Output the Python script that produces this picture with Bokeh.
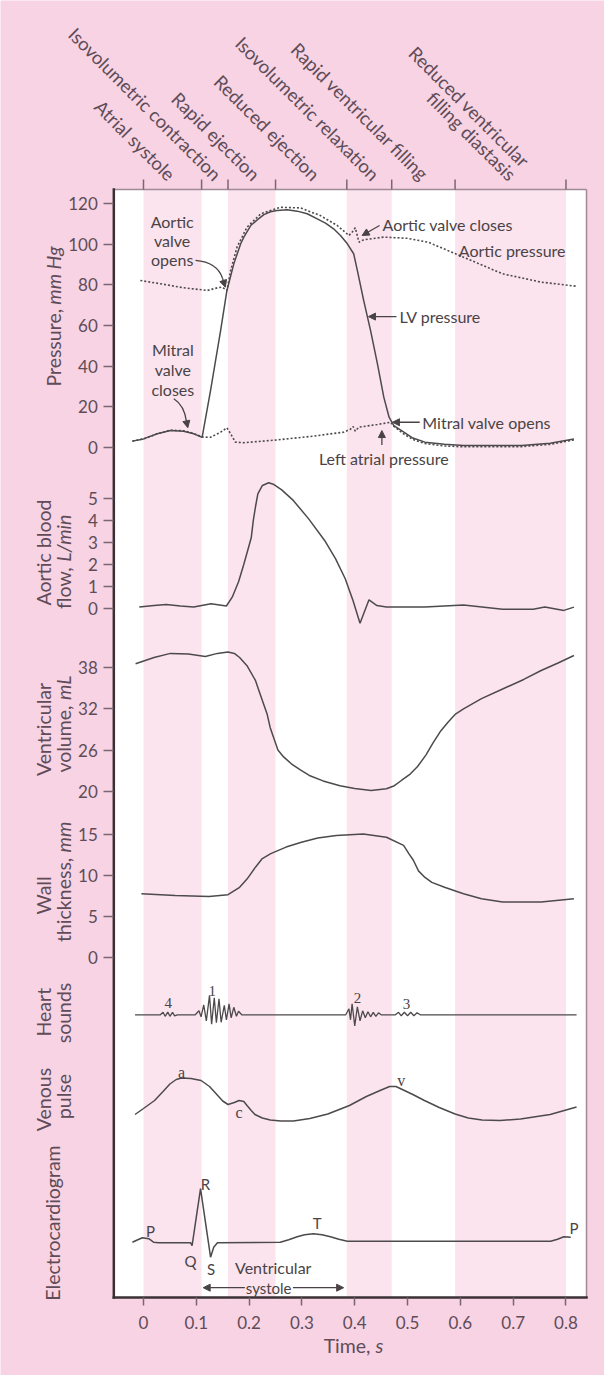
import math
from bokeh.plotting import figure
from bokeh.models import (Range1d, LinearAxis, FixedTicker, BoxAnnotation, Label,
                          Arrow, NormalHead, NumeralTickFormatter)
from bokeh.embed import file_html
from bokeh.resources import INLINE

# ---------------- data ----------------
PHASE_BOUNDS = [0, 0.11, 0.16, 0.25, 0.385, 0.47, 0.59, 0.80]
PHASE_NAMES = ["Atrial systole", "Isovolumetric contraction", "Rapid ejection",
               "Reduced ejection", "Isovolumetric relaxation", "Rapid ventricular filling",
               "Reduced ventricular\nfilling diastasis"]
TIME_TICKS = [0, 0.1, 0.2, 0.3, 0.4, 0.5, 0.6, 0.7, 0.8]
PRESSURE_TICKS = [0, 20, 40, 60, 80, 100, 120]
FLOW_TICKS = [0, 1, 2, 3, 4, 5]
VOLUME_TICKS = [20, 26, 32, 38]
WALL_TICKS = [0, 5, 10, 15]

LV_T = [-0.021, 0.0, 0.026, 0.051, 0.076, 0.095, 0.111, 0.127, 0.146, 0.158, 0.171, 0.184,
        0.19, 0.203, 0.2153, 0.228, 0.2405, 0.253, 0.2721, 0.291, 0.31, 0.329, 0.3446, 0.36,
        0.373, 0.386, 0.398, 0.405, 0.417, 0.43, 0.443, 0.455, 0.465, 0.474, 0.493, 0.51,
        0.533, 0.57, 0.606, 0.716, 0.77, 0.815]
LV_P = [3.0, 4.1, 6.6, 8.2, 7.9, 6.6, 4.9, 28.0, 57.5, 77.3, 90.4, 100.3,
        103.6, 109.3, 112.1, 114.7, 116.1, 116.7, 117.1, 116.4, 115.1, 112.6, 110.5, 107.7,
        104.4, 100.3, 95.4, 87.1, 72.3, 57.5, 41.1, 24.7, 14.8, 10.7, 7.4, 4.5,
        2.5, 1.4, 0.8, 0.8, 2.0, 4.1]

AO_T = [-0.006, 0.032, 0.076, 0.121, 0.14, 0.149, 0.158, 0.165, 0.177, 0.196, 0.222, 0.259,
        0.297, 0.335, 0.367, 0.389, 0.395, 0.401, 0.408, 0.417, 0.455, 0.5, 0.54, 0.606,
        0.68, 0.753, 0.822]
AO_P = [82.2, 80.6, 78.6, 77.3, 78.6, 78.9, 77.3, 87.1, 98.6, 108.5, 115.1, 118.3,
        118.0, 114.2, 109.3, 104.4, 106.0, 108.2, 101.1, 102.3, 103.6, 103.0, 101.0, 93.7,
        85.5, 81.4, 79.3]

LA_T = [-0.021, 0.0, 0.026, 0.051, 0.076, 0.095, 0.111, 0.127, 0.146, 0.158, 0.165, 0.174,
        0.19, 0.253, 0.316, 0.379, 0.392, 0.397, 0.401, 0.408, 0.443, 0.468, 0.474, 0.493,
        0.51, 0.533, 0.57, 0.606, 0.716, 0.77, 0.815]
LA_P = [3.0, 4.1, 6.6, 8.4, 8.1, 6.8, 5.0, 4.9, 7.4, 9.6, 6.6, 2.5,
        2.2, 3.6, 5.3, 7.4, 8.9, 10.2, 7.9, 9.9, 11.2, 12.3, 10.3, 6.5,
        3.8, 1.8, 0.6, 0.2, 0.3, 1.4, 3.6]

FLOW_T = [-0.008, 0.02, 0.043, 0.07, 0.095, 0.128, 0.157, 0.168, 0.18, 0.19, 0.204, 0.208,
          0.212, 0.2165, 0.2252, 0.237, 0.2471, 0.2617, 0.2836, 0.3128, 0.343, 0.3638, 0.382,
          0.3967, 0.41, 0.427, 0.442, 0.46, 0.533, 0.606, 0.68, 0.738, 0.76, 0.796, 0.815]
FLOW_V = [0.05, 0.12, 0.17, 0.1, 0.05, 0.2, 0.1, 0.5, 1.2, 2.0, 3.2, 4.0,
          4.6, 5.2, 5.58, 5.7, 5.62, 5.38, 4.9, 4.06, 3.08, 2.24, 1.34,
          0.35, -0.68, 0.38, 0.12, 0.05, 0.05, 0.15, -0.05, -0.05, 0.05, -0.1, 0.05]

VOL_T = [-0.015, 0.02, 0.051, 0.085, 0.117, 0.14, 0.16, 0.172, 0.182, 0.196, 0.212, 0.2216,
         0.234, 0.2398, 0.2545, 0.2653, 0.28, 0.297, 0.314, 0.34, 0.372, 0.40, 0.431, 0.46,
         0.475, 0.489, 0.505, 0.519, 0.535, 0.548, 0.562, 0.577, 0.59, 0.606, 0.64, 0.68,
         0.72, 0.753, 0.785, 0.815]
VOL_V = [38.58, 39.5, 40.1, 40.0, 39.65, 40.1, 40.3, 40.1, 39.5, 38.3, 36.15, 34.0,
         31.27, 29.3, 26.0, 25.0, 24.0, 23.1, 22.3, 21.5, 20.8, 20.4, 20.1, 20.35,
         20.8, 21.6, 22.5, 23.6, 25.3, 27.0, 28.7, 30.1, 31.2, 32.0, 33.5, 34.9,
         36.3, 37.6, 38.7, 39.8]

WALL_T = [-0.004, 0.06, 0.124, 0.16, 0.182, 0.196, 0.212, 0.225, 0.241, 0.27, 0.299, 0.33,
          0.365, 0.416, 0.46, 0.4925, 0.5024, 0.511, 0.5207, 0.533, 0.546, 0.57, 0.606,
          0.64, 0.68, 0.753, 0.815]
WALL_V = [7.8, 7.6, 7.48, 7.7, 8.6, 9.6, 11.05, 12.1, 12.7, 13.5, 14.1, 14.6,
          14.9, 15.1, 14.7, 13.7, 12.7, 11.9, 10.6, 9.8, 9.2, 8.6, 7.8,
          7.2, 6.8, 6.8, 7.2]

HS_T = [-0.016, 0.032, 0.037, 0.041, 0.046, 0.050, 0.055, 0.059, 0.064,
        0.098, 0.105, 0.109, 0.114, 0.119, 0.125, 0.129, 0.134, 0.138, 0.143, 0.147,
        0.153, 0.157, 0.162, 0.166, 0.171, 0.176, 0.180, 0.186,
        0.383, 0.389, 0.392, 0.395, 0.400, 0.405, 0.410, 0.415, 0.420, 0.425, 0.430,
        0.435, 0.440, 0.445, 0.450,
        0.477, 0.483, 0.488, 0.494, 0.500, 0.506, 0.512, 0.518, 0.524, 0.82]
HS_V = [0, 0, 2.5, -1.5, 2.7, -1.5, 2.5, -1, 0,
        0, 4, -2, 10, -6, 19.5, -9.5, 17, -8, 16, -7.5,
        9.5, -5, 11, -3, 7.5, -1.5, 3.5, 0,
        0, 6, -5, 11, -11, 8, -6, 4, -3, 3, -2,
        2.5, -1.5, 2, 0,
        0, 2.5, -1, 2.5, -1, 2.5, -1, 2, 0, 0]

VEN_T = [-0.016, 0.0, 0.021, 0.037, 0.05, 0.062, 0.072, 0.09, 0.109, 0.125, 0.138, 0.15,
         0.16, 0.172, 0.181, 0.19, 0.196, 0.204, 0.211, 0.225, 0.24, 0.26, 0.284, 0.315,
         0.349, 0.39, 0.422, 0.448, 0.466, 0.478, 0.488, 0.51, 0.532, 0.56, 0.59, 0.615,
         0.641, 0.675, 0.714, 0.77, 0.82]
VEN_V = [2.2, 3.4, 5.0, 6.8, 8.3, 9.2, 9.5, 9.4, 9.0, 7.8, 6.3, 4.9,
         4.2, 4.6, 5.0, 4.8, 4.0, 3.0, 2.2, 1.5, 1.1, 0.9, 0.9, 1.4,
         2.3, 4.0, 5.8, 7.0, 7.8, 7.8, 7.3, 6.2, 5.0, 3.6, 2.3, 1.5,
         1.1, 1.0, 1.3, 2.2, 3.7]

ECG_T = [-0.021, -0.013, -0.002, 0.01, 0.019, 0.029, 0.089, 0.092, 0.108, 0.127, 0.133, 0.14,
         0.259, 0.275, 0.291, 0.305, 0.322, 0.338, 0.354, 0.37, 0.386, 0.771, 0.784, 0.796,
         0.809]
ECG_V = [0.0, 0.04, 0.09, 0.07, 0.0, -0.01, -0.01, -0.07, 1.07, -0.3, -0.1, -0.01,
         0.0, 0.05, 0.11, 0.15, 0.17, 0.15, 0.11, 0.06, 0.02, 0.02, 0.06, 0.11,
         0.10]

# ---------------- style ----------------
PINK = "#f7d3e3"
BAND = "#fbe4ee"
TXT = "#5f4c58"
INK = "#4a4346"
LINEC = "#4d4a4c"
FRAME_L = "#3a3035"
FRAME_T = "#a08a96"
TICKC = "#7a6671"
FONT = "Lato"
SERIF = "Liberation Serif"
TITLE = "19.5px"
NOTE = "16px"
PHASE = "18.5px"

# panel geometry (x in seconds, y in page pixels)
X0, X1 = -0.0562, 0.8389
Y_TOP, Y_BOT = 189, 1297

p = figure(width=604, height=1375, x_range=Range1d(-0.27078, 0.87294),
           y_range=Range1d(1375, 0), x_axis_location=None, y_axis_location=None,
           toolbar_location=None, output_backend="svg", min_border=0,
           background_fill_color=PINK, border_fill_color=PINK, outline_line_color=None)
p.xgrid.visible = False
p.ygrid.visible = False
p.extra_y_ranges = {
    "pressure": Range1d(-457.74, 220.27),
    "flow": Range1d(-34.877, 27.623),
    "volume": Range1d(-65.225, 135.33),
    "wall": Range1d(-50.94, 116.74),
    "heart": Range1d(-360.7, 1014.3),
    "venous": Range1d(-50.0, 225.0),
    "ecg": Range1d(-2.666, 24.834),
}

p.add_layout(BoxAnnotation(left=X0, right=X1, top=Y_TOP, bottom=Y_BOT, fill_color="white",
                           fill_alpha=1, line_color=None, level="underlay"))
for i in range(0, len(PHASE_BOUNDS) - 1, 2):
    p.add_layout(BoxAnnotation(left=PHASE_BOUNDS[i], right=PHASE_BOUNDS[i + 1], top=Y_TOP,
                               bottom=Y_BOT, fill_color=BAND, fill_alpha=1, line_color=None,
                               level="underlay"))

# frame lines and top phase ticks
p.segment(x0=[X0, X1], y0=[Y_TOP, Y_TOP], x1=[X1, X1], y1=[Y_TOP, Y_BOT],
          line_color=FRAME_T, line_width=1.5)
p.segment(x0=[X0, X0], y0=[Y_TOP, Y_BOT], x1=[X0, X1], y1=[Y_BOT, Y_BOT],
          line_color=FRAME_L, line_width=2.5, line_cap="square")
p.segment(x0=PHASE_BOUNDS, y0=[Y_TOP - 10] * len(PHASE_BOUNDS), x1=PHASE_BOUNDS,
          y1=[Y_TOP] * len(PHASE_BOUNDS), line_color=TICKC, line_width=1.5)


def left_axis(name, ticks):
    ax = LinearAxis(y_range_name=name, fixed_location=X0, ticker=FixedTicker(ticks=ticks),
                    axis_line_color=None, major_tick_line_color=TICKC,
                    major_tick_line_width=1.5, major_tick_out=10, major_tick_in=0,
                    minor_tick_line_color=None, major_label_text_font=FONT,
                    major_label_text_font_size="17px", major_label_text_color=TXT,
                    major_label_standoff=6)
    p.add_layout(ax, "left")


left_axis("pressure", PRESSURE_TICKS)
left_axis("flow", FLOW_TICKS)
left_axis("volume", VOLUME_TICKS)
left_axis("wall", WALL_TICKS)

bx = LinearAxis(fixed_location=Y_BOT, ticker=FixedTicker(ticks=TIME_TICKS),
                axis_line_color=None, major_tick_out=8, major_tick_in=0,
                major_tick_line_color=TICKC, major_tick_line_width=1.5,
                minor_tick_line_color=None, major_label_text_font=FONT,
                major_label_text_font_size="17px", major_label_text_color=TXT,
                major_label_standoff=10, formatter=NumeralTickFormatter(format="0.[0]"))
p.add_layout(bx, "below")


def lab(rng, x, y, text, size=NOTE, align="center", baseline="middle", angle=0.0,
        color=INK, font=FONT, style="normal"):
    p.add_layout(Label(x=x, y=y, y_range_name=rng, text=text, text_font=font,
                       text_font_size=size, text_align=align, text_baseline=baseline,
                       angle=angle, text_color=color, text_font_style=style))


def arrow(rng, x0, y0, x1, y1):
    p.add_layout(Arrow(end=NormalHead(size=7, fill_color=INK, line_color=INK, line_width=1),
                       x_start=x0, y_start=y0, x_end=x1, y_end=y1, y_range_name=rng,
                       line_color=INK, line_width=1.3))


V90 = math.pi / 2

# ---------------- pressure ----------------
pr = "pressure"
p.line(AO_T, AO_P, y_range_name=pr, line_color=LINEC, line_width=1.6, line_dash="2 2")
p.line(LA_T, LA_P, y_range_name=pr, line_color=LINEC, line_width=1.6, line_dash="2 2")
p.line(LV_T, LV_P, y_range_name=pr, line_color=LINEC, line_width=1.5)

phase_pos = [(0.0538, 133.1), (0.1413, 133.1), (0.2144, 133.1), (0.3274, 133.1),
             (0.4404, 133.1), (0.5340, 133.1)]
for name, (x, y) in zip(PHASE_NAMES[:6], phase_pos):
    lab(pr, x, y, name, size=PHASE, align="right", baseline="alphabetic",
        angle=-math.pi / 4, color=TXT)
last1, last2 = PHASE_NAMES[6].split("\n")
lab(pr, 0.7249, 139.7, last1, size=PHASE, align="right", baseline="alphabetic",
    angle=-math.pi / 4, color=TXT)
lab(pr, 0.6993, 133.1, last2, size=PHASE, align="right", baseline="alphabetic",
    angle=-math.pi / 4, color=TXT)

for txt, y in [("Aortic", 111.4), ("valve", 101.9), ("opens", 92.4)]:
    lab(pr, 0.0543, y, txt)
for txt, y in [("Mitral", 48.0), ("valve", 38.2), ("closes", 28.5)]:
    lab(pr, 0.0555, y, txt)
lab(pr, 0.4526, 109.8, "Aortic valve closes", align="left")
lab(pr, 0.597, 97.0, "Aortic pressure", align="left")
lab(pr, 0.4848, 64.4, "LV pressure", align="left")
lab(pr, 0.528, 12.3, "Mitral valve opens", align="left")
lab(pr, 0.455, -5.7, "Left atrial pressure")

p.quadratic(x0=[0.0985], y0=[92.1], x1=[0.1496], y1=[83.3], cx=[0.1395], cy=[91.2],
            y_range_name=pr, line_color=INK, line_width=1.3)
arrow(pr, 0.1496, 83.3, 0.155, 78.9)
p.quadratic(x0=[0.0574], y0=[23.9], x1=[0.0815], y1=[12.5], cx=[0.0776], cy=[20.6],
            y_range_name=pr, line_color=INK, line_width=1.3)
arrow(pr, 0.0815, 12.5, 0.0839, 9.6)
arrow(pr, 0.447, 109.3, 0.414, 104.4)
arrow(pr, 0.479, 64.4, 0.426, 64.4)
arrow(pr, 0.523, 12.3, 0.4715, 12.3)
arrow(pr, 0.4514, 1.1, 0.4514, 8.2)

lab(pr, -0.1699, 68.2, "Pressure,", size=TITLE, align="right", angle=V90, color=TXT)
lab(pr, -0.1699, 70.3, "mm Hg", size=TITLE, align="left", angle=V90, color=TXT,
    style="italic")

# ---------------- aortic flow ----------------
p.line(FLOW_T, FLOW_V, y_range_name="flow", line_color=LINEC, line_width=1.5)
lab("flow", -0.1894, 2.53, "Aortic blood", size=TITLE, angle=V90, color=TXT)
lab("flow", -0.1506, 1.86, "flow,", size=TITLE, align="right", angle=V90, color=TXT)
lab("flow", -0.1506, 2.11, "L/min", size=TITLE, align="left", angle=V90, color=TXT,
    style="italic")

# ---------------- volume ----------------
p.line(VOL_T, VOL_V, y_range_name="volume", line_color=LINEC, line_width=1.5)
lab("volume", -0.1894, 29.0, "Ventricular", size=TITLE, angle=V90, color=TXT)
lab("volume", -0.1506, 32.5, "volume,", size=TITLE, align="right", angle=V90, color=TXT)
lab("volume", -0.1506, 33.3, "mL", size=TITLE, align="left", angle=V90, color=TXT,
    style="italic")

# ---------------- wall thickness ----------------
p.line(WALL_T, WALL_V, y_range_name="wall", line_color=LINEC, line_width=1.5)
lab("wall", -0.1894, 7.6, "Wall", size=TITLE, angle=V90, color=TXT)
lab("wall", -0.1506, 12.2, "thickness,", size=TITLE, align="right", angle=V90, color=TXT)
lab("wall", -0.1506, 12.85, "mm", size=TITLE, align="left", angle=V90, color=TXT,
    style="italic")

# ---------------- heart sounds ----------------
p.line(HS_T, HS_V, y_range_name="heart", line_color=LINEC, line_width=1.3)
for txt, x, y in [("4", 0.0468, 11.6), ("1", 0.130, 24.3), ("2", 0.4052, 17.0),
                  ("3", 0.4981, 11.0)]:
    lab("heart", x, y, txt, size="15px", font=SERIF)
lab("heart", -0.1894, 2.6, "Heart", size=TITLE, angle=V90, color=TXT)
lab("heart", -0.1506, 1.8, "sounds", size=TITLE, angle=V90, color=TXT)

# ---------------- venous pulse ----------------
p.line(VEN_T, VEN_V, y_range_name="venous", line_color=LINEC, line_width=1.5)
for txt, x, y in [("a", 0.072, 10.66), ("c", 0.181, 2.66), ("v", 0.488, 9.0)]:
    lab("venous", x, y, txt, size="16px", font=SERIF)
lab("venous", -0.1894, 5.2, "Venous", size=TITLE, angle=V90, color=TXT)
lab("venous", -0.1506, 5.8, "pulse", size=TITLE, angle=V90, color=TXT)

# ---------------- ECG ----------------
p.line(ECG_T, ECG_V, y_range_name="ecg", line_color=LINEC, line_width=1.5)
for txt, x, y in [("P", 0.0133, 0.234), ("Q", 0.089, -0.37), ("R", 0.1174, 1.17),
                  ("S", 0.128, -0.53), ("T", 0.329, 0.38), ("P", 0.815, 0.288)]:
    lab("ecg", x, y, txt, size="15px")
lab("ecg", 0.2456, -0.51, "Ventricular", size="16px")
lab("ecg", 0.237, -0.91, "systole", size="15px")
arrow("ecg", 0.192, -0.91, 0.113, -0.91)
arrow("ecg", 0.283, -0.91, 0.379, -0.91)
lab("ecg", -0.1729, 0.384, "Electrocardiogram", size=TITLE, angle=V90, color=TXT)
lab("ecg", 0.4299, -2.066, "Time,", size=TITLE, align="right", color=TXT)
lab("ecg", 0.4394, -2.066, "s", size=TITLE, align="left", color=TXT, style="italic")

open("out.html", "w").write(file_html(p, INLINE))
